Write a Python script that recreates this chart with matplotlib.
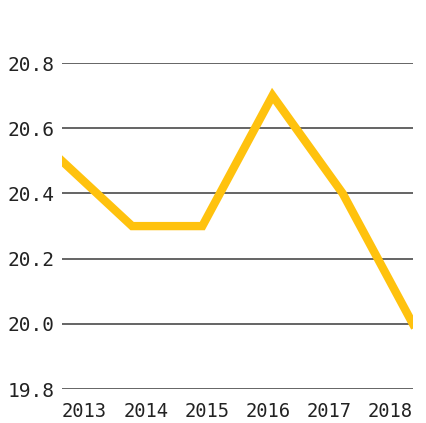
import matplotlib.pyplot as plt
from matplotlib.transforms import offset_copy

years = [2013, 2014, 2015, 2016, 2017, 2018]
values = [20.5, 20.3, 20.3, 20.7, 20.4, 20.0]
yticks = [19.8, 20.0, 20.2, 20.4, 20.6, 20.8]

plt.rcParams['font.family'] = 'DejaVu Sans Mono'

fig = plt.figure(figsize=(4.27, 4.23), dpi=100)
ax = fig.add_axes([0.145, 0.080, 0.822, 0.771])

for y in yticks:
    ax.axhline(y, color='#3a3a3a', lw=1.1, zorder=1)

ax.plot(years, values, color='#FFC20E', lw=6, solid_joinstyle='miter', zorder=2)

ax.set_xlim(years[0], years[-1])
ax.set_ylim(yticks[0], yticks[-1])
ax.set_xticks([])
ax.set_yticks(yticks)
ax.set_yticklabels([f"{v:.1f}" for v in yticks])
ax.tick_params(length=0, labelsize=14, colors='#222222')
ax.tick_params(axis='y', pad=5)

# year labels spread evenly across the full width, first flush left, last flush right
label_w = 32.5  # points, width of a 4-digit label
n = len(years)
for i, yr in enumerate(years):
    f = i / (n - 1)
    tr = offset_copy(ax.transAxes, fig=fig, x=(0.5 - f) * label_w, y=-9.5, units='points')
    ax.text(f, 0, str(yr), transform=tr, ha='center', va='top',
            fontsize=13.5, color='#222222')

for s in ax.spines.values():
    s.set_visible(False)

fig.savefig('out.png', dpi=100)
